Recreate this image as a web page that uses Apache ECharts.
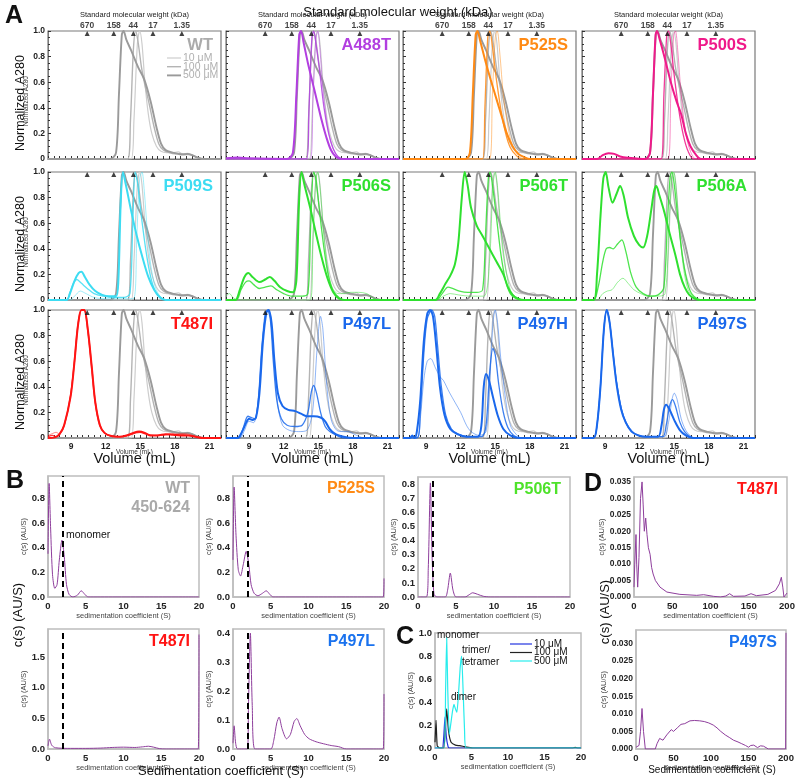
<!DOCTYPE html>
<html>
<head>
<meta charset="utf-8">
<script src="https://cdn.jsdelivr.net/npm/echarts@6/dist/echarts.min.js"></script>
<style>
  html, body { margin: 0; background: #fff; }
  #chart { width: 800px; height: 778px; }
</style>
</head>
<body>
<div id="chart"></div>
<script>
// ---------- panel A : SEC traces, [volume mL, normalized A280] ----------
const mwVolume = [10.4, 12.7, 14.4, 16.1, 18.6];
const mwLabels = ['670', '158', '44', '17', '1.35'];
const concLabels = ['10 μM', '100 μM', '500 μM'];

const wt10 = [[7,0],[14.2,0],[14.45,0.3],[14.75,0.9],[14.95,1.0],[15.15,0.9],[15.4,0.6],[15.7,0.35],[16.0,0.2],[16.4,0.1],[16.8,0.06],[17.3,0.05],[17.8,0.05],[18.3,0.055],[18.7,0.04],[19.1,0.045],[19.5,0.03],[20,0.01],[20.5,0],[22,0]];
const wt100 = [[7,0],[13.9,0],[14.15,0.3],[14.4,0.85],[14.6,1.0],[14.8,0.92],[15.1,0.72],[15.4,0.58],[15.8,0.42],[16.2,0.25],[16.6,0.12],[17.0,0.07],[17.5,0.05],[18.0,0.04],[18.5,0.04],[19.0,0.035],[19.5,0.03],[20.0,0.01],[20.5,0],[22,0]];
const wt500 = [[7,0],[12.4,0],[12.9,0.05],[13.15,0.5],[13.4,0.97],[13.55,1.0],[13.8,0.93],[14.2,0.85],[14.8,0.72],[15.35,0.62],[15.9,0.45],[16.4,0.25],[16.8,0.12],[17.2,0.07],[17.8,0.05],[18.3,0.04],[18.7,0.035],[19.1,0.04],[19.5,0.03],[20.0,0.01],[20.5,0],[22,0]];

const a488t10 = [[7,0],[14.3,0],[14.55,0.5],[14.8,0.95],[14.95,1.0],[15.15,0.85],[15.4,0.55],[15.8,0.25],[16.2,0.1],[16.6,0.03],[17.1,0],[22,0]];
const a488t100 = [[7,0],[14.0,0],[14.2,0.4],[14.45,0.95],[14.6,1.0],[14.8,0.9],[15.1,0.7],[15.5,0.4],[15.9,0.2],[16.3,0.08],[16.7,0.02],[17.2,0],[22,0]];
const a488t500 = [[7,0.005],[8,0.012],[9,0.005],[12.3,0],[12.8,0.05],[13.1,0.5],[13.35,0.97],[13.5,1.0],[13.75,0.9],[14.1,0.75],[14.5,0.6],[14.9,0.45],[15.3,0.3],[15.7,0.17],[16.1,0.07],[16.5,0.02],[17,0],[22,0]];

const p525s10 = [[7,0],[14.5,0],[14.75,0.5],[15.0,0.95],[15.17,1.0],[15.4,0.82],[15.7,0.5],[16.1,0.25],[16.5,0.1],[17,0.03],[17.5,0],[22,0]];
const p525s100 = [[7,0],[13.9,0],[14.1,0.4],[14.35,0.95],[14.53,1.0],[14.75,0.88],[15.1,0.62],[15.5,0.38],[15.9,0.2],[16.3,0.09],[16.8,0.03],[17.3,0],[22,0]];
const p525s500 = [[7,0],[12.4,0],[12.8,0.05],[13.05,0.5],[13.3,0.97],[13.45,1.0],[13.7,0.92],[14.1,0.78],[14.6,0.62],[15.1,0.47],[15.6,0.32],[16.0,0.2],[16.5,0.1],[17.0,0.04],[17.5,0.015],[18,0],[22,0]];

const p500s10 = [[7,0],[14.45,0],[14.7,0.5],[14.95,0.97],[15.1,1.0],[15.3,0.85],[15.6,0.5],[16.0,0.2],[16.4,0.06],[16.9,0],[22,0]];
const p500s100 = [[7,0],[13.85,0],[14.1,0.5],[14.35,0.97],[14.5,1.0],[14.7,0.9],[15.0,0.65],[15.4,0.38],[15.8,0.18],[16.2,0.06],[16.7,0],[22,0]];
const p500s500 = [[7,0],[8.3,0],[8.8,0.03],[9.3,0.045],[9.8,0.04],[10.3,0.02],[11,0.01],[12.5,0],[12.9,0.05],[13.15,0.5],[13.38,0.97],[13.5,1.0],[13.75,0.93],[14.2,0.78],[14.7,0.6],[15.2,0.45],[15.6,0.35],[16.0,0.2],[16.4,0.1],[16.9,0.03],[17.3,0],[22,0]];

const p509s10 = [[7,0],[8.9,0],[9.3,0.03],[9.8,0.07],[10.3,0.05],[11,0.02],[12,0.01],[14.4,0.01],[14.7,0.5],[14.95,0.95],[15.15,1.0],[15.35,0.85],[15.6,0.55],[15.9,0.28],[16.3,0.1],[16.8,0.02],[17.3,0],[22,0]];
const p509s100 = [[7,0],[8.6,0],[8.9,0.06],[9.2,0.13],[9.5,0.16],[9.9,0.13],[10.4,0.09],[11,0.05],[11.8,0.03],[12.6,0.02],[13.6,0.02],[14.1,0.05],[14.35,0.6],[14.55,1.0],[14.75,0.92],[15.1,0.65],[15.5,0.38],[15.9,0.18],[16.3,0.07],[16.8,0.02],[17.3,0],[22,0]];
const p509s500 = [[7,0],[8.6,0],[8.9,0.05],[9.3,0.15],[9.65,0.21],[9.9,0.22],[10.2,0.18],[10.6,0.12],[11.1,0.07],[11.7,0.04],[12.3,0.03],[12.9,0.03],[13.1,0.15],[13.3,0.75],[13.5,1.0],[13.75,0.9],[14.2,0.7],[14.7,0.5],[15.2,0.33],[15.7,0.18],[16.2,0.08],[16.7,0.02],[17.2,0],[22,0]];

const p506s10 = [[7,0.03],[7.3,0.05],[7.6,0.02],[8,0],[14.3,0],[14.55,0.5],[14.8,0.95],[14.95,1.0],[15.15,0.88],[15.45,0.55],[15.8,0.25],[16.2,0.1],[16.7,0.05],[17.2,0.05],[17.8,0.06],[18.5,0.06],[19.2,0.05],[19.7,0.02],[20.2,0],[22,0]];
const p506s100 = [[7,0],[7.9,0],[8.3,0.08],[8.7,0.14],[9.0,0.15],[9.4,0.12],[9.9,0.09],[10.4,0.1],[10.9,0.11],[11.4,0.08],[12,0.05],[12.7,0.03],[13.6,0.03],[14.1,0.05],[14.35,0.6],[14.6,1.0],[14.8,0.95],[15.1,0.7],[15.5,0.4],[15.9,0.18],[16.3,0.07],[16.8,0.02],[17.3,0],[22,0]];
const p506s500 = [[7,0],[7.8,0],[8.2,0.08],[8.6,0.18],[8.95,0.21],[9.3,0.18],[9.9,0.14],[10.4,0.16],[10.8,0.18],[11.2,0.15],[11.7,0.1],[12.3,0.07],[12.8,0.06],[13.1,0.15],[13.35,0.8],[13.55,1.0],[13.8,0.9],[14.3,0.72],[14.8,0.52],[15.3,0.33],[15.8,0.17],[16.3,0.06],[16.8,0.01],[17.3,0],[22,0]];

const p506t10 = [[7,0],[10,0],[10.5,0.03],[11.1,0.05],[11.8,0.04],[12.8,0.03],[14.0,0.03],[14.5,0.3],[14.8,0.9],[15.0,1.0],[15.2,0.88],[15.5,0.55],[15.9,0.25],[16.3,0.08],[16.8,0.02],[17.3,0],[22,0]];
const p506t100 = [[7,0],[9.9,0],[10.4,0.05],[10.9,0.1],[11.3,0.09],[11.9,0.07],[12.6,0.06],[13.4,0.06],[13.9,0.08],[14.15,0.5],[14.4,0.95],[14.55,1.0],[14.75,0.9],[15.1,0.65],[15.5,0.35],[15.9,0.15],[16.3,0.05],[16.8,0.01],[17.3,0],[22,0]];
const p506t500 = [[7,0],[9.8,0],[10.2,0.05],[10.7,0.13],[11.1,0.19],[11.5,0.28],[11.8,0.45],[12.1,0.8],[12.35,1.0],[12.6,0.9],[12.9,0.72],[13.4,0.58],[13.9,0.5],[14.5,0.4],[15.1,0.3],[15.7,0.2],[16.1,0.1],[16.5,0.04],[17,0.01],[17.5,0],[22,0]];

const p506a10 = [[7,0],[8.3,0],[8.8,0.05],[9.2,0.07],[9.6,0.08],[10.1,0.14],[10.55,0.17],[11,0.13],[11.5,0.08],[12.1,0.05],[12.7,0.03],[13.5,0.03],[14.2,0.05],[14.55,0.6],[14.8,0.97],[14.95,1.0],[15.15,0.88],[15.45,0.55],[15.8,0.25],[16.2,0.08],[16.7,0.02],[17.2,0],[22,0]];
const p506a100 = [[7,0],[8.0,0],[8.4,0.1],[8.8,0.3],[9.1,0.4],[9.4,0.41],[9.7,0.4],[10.1,0.44],[10.45,0.47],[10.8,0.38],[11.2,0.22],[11.7,0.1],[12.3,0.05],[12.9,0.03],[13.6,0.04],[14.1,0.1],[14.4,0.6],[14.65,0.97],[14.8,1.0],[15.0,0.9],[15.3,0.65],[15.7,0.35],[16.1,0.15],[16.5,0.05],[17,0.01],[17.5,0],[22,0]];
const p506a500 = [[7,0],[8.0,0],[8.3,0.2],[8.6,0.65],[8.85,0.95],[9.05,1.0],[9.3,0.88],[9.65,0.76],[10.0,0.83],[10.3,0.89],[10.6,0.82],[11.0,0.64],[11.5,0.5],[11.95,0.43],[12.3,0.41],[12.65,0.5],[13.0,0.7],[13.25,0.85],[13.45,0.89],[13.7,0.82],[14.1,0.7],[14.6,0.52],[15.1,0.35],[15.5,0.2],[15.9,0.1],[16.3,0.04],[16.8,0.01],[17.3,0],[22,0]];

const t487i10 = [[7,0.02],[7.4,0.035],[7.7,0.045],[8.0,0.03],[8.4,0.09],[8.9,0.3],[9.25,0.58],[9.55,0.87],[9.85,1.0],[10.1,1.0],[10.4,0.86],[10.75,0.56],[11.05,0.29],[11.45,0.1],[11.9,0.04],[12.6,0.01],[13.5,0.01],[14.2,0.03],[14.8,0.05],[15.3,0.04],[15.9,0.02],[16.6,0.02],[17.4,0.03],[18.0,0.03],[18.6,0.035],[19.2,0.03],[19.7,0.015],[20.3,0],[22,0]];
const t487i100 = [[7,0.01],[7.4,0.02],[7.7,0.01],[8.0,0.03],[8.4,0.1],[8.95,0.33],[9.3,0.6],[9.6,0.88],[9.9,1.0],[10.15,1.0],[10.45,0.85],[10.8,0.55],[11.1,0.28],[11.5,0.1],[11.9,0.04],[12.5,0.015],[13.3,0.01],[14,0.02],[14.6,0.04],[15.0,0.045],[15.5,0.03],[16.2,0.02],[17.0,0.025],[17.8,0.03],[18.5,0.025],[19.2,0.02],[20,0.005],[20.5,0],[22,0]];
const t487i500 = [[7,0],[7.6,0.005],[8.0,0.03],[8.4,0.1],[8.97,0.33],[9.3,0.6],[9.6,0.88],[9.9,1.0],[10.15,1.0],[10.45,0.85],[10.8,0.55],[11.1,0.28],[11.5,0.1],[11.9,0.04],[12.5,0.015],[13.2,0.01],[13.8,0.02],[14.4,0.04],[14.9,0.05],[15.4,0.04],[15.9,0.02],[16.5,0.02],[17.2,0.03],[17.8,0.025],[18.5,0.02],[19.2,0.02],[19.8,0.01],[20.5,0],[22,0]];

const p497l10 = [[7,0],[8.2,0],[8.6,0.06],[9.0,0.13],[9.4,0.12],[9.8,0.3],[10.1,0.7],[10.45,0.98],[10.65,1.0],[10.9,0.9],[11.2,0.55],[11.5,0.25],[11.9,0.1],[12.5,0.06],[13.3,0.05],[14.0,0.06],[14.5,0.2],[14.9,0.7],[15.2,0.95],[15.4,0.85],[15.7,0.45],[16.1,0.15],[16.6,0.06],[17.2,0.05],[17.6,0.05],[18.1,0.03],[18.6,0.01],[19,0],[22,0]];
const p497l100 = [[7,0],[8.1,0],[8.5,0.08],[8.9,0.17],[9.2,0.16],[9.5,0.15],[9.8,0.3],[10.1,0.7],[10.4,0.97],[10.6,1.0],[10.85,0.92],[11.1,0.6],[11.4,0.3],[11.8,0.15],[12.3,0.1],[13.0,0.09],[13.6,0.1],[14.1,0.2],[14.4,0.36],[14.6,0.41],[14.85,0.35],[15.2,0.2],[15.6,0.09],[16.0,0.05],[16.6,0.02],[17.2,0],[22,0]];
const p497l500 = [[7,0],[8.0,0],[8.4,0.05],[8.75,0.12],[9.0,0.15],[9.3,0.14],[9.6,0.16],[9.9,0.35],[10.2,0.75],[10.5,0.98],[10.7,1.0],[10.95,0.9],[11.2,0.6],[11.5,0.35],[11.9,0.25],[12.4,0.22],[13.0,0.21],[13.5,0.19],[14.0,0.17],[14.6,0.17],[15.2,0.16],[15.6,0.13],[16.0,0.07],[16.5,0.03],[17.2,0.01],[18,0],[22,0]];

const p497h10 = [[7,0],[8.2,0],[8.5,0.15],[8.8,0.45],[9.1,0.6],[9.4,0.62],[9.8,0.55],[10.2,0.48],[10.5,0.45],[11.0,0.36],[11.5,0.28],[12.0,0.2],[12.5,0.1],[12.9,0.05],[13.6,0.02],[14.2,0.05],[14.5,0.4],[14.8,0.9],[15.0,1.0],[15.2,0.9],[15.5,0.6],[15.9,0.3],[16.3,0.1],[16.8,0.03],[17.3,0],[22,0]];
const p497h100 = [[7,0],[8.2,0],[8.5,0.2],[8.8,0.65],[9.1,0.93],[9.5,1.0],[9.75,0.95],[10.0,0.72],[10.3,0.42],[10.7,0.18],[11.2,0.07],[11.8,0.03],[12.6,0.01],[13.8,0.01],[14.2,0.1],[14.5,0.5],[14.8,0.7],[15.0,0.65],[15.3,0.42],[15.7,0.2],[16.1,0.08],[16.6,0.02],[17.2,0],[22,0]];
const p497h500 = [[7,0],[7.6,0],[7.8,0.02],[8.0,0],[8.2,0.05],[8.5,0.3],[8.8,0.75],[9.1,0.97],[9.35,1.0],[9.6,0.95],[9.9,0.7],[10.2,0.4],[10.6,0.18],[11.1,0.07],[11.7,0.03],[12.5,0.01],[13.5,0.01],[13.8,0.1],[14.0,0.4],[14.2,0.5],[14.45,0.45],[14.8,0.32],[15.2,0.18],[15.7,0.07],[16.3,0.02],[17,0],[22,0]];

const p497s10 = [[7,0],[8.0,0],[8.3,0.1],[8.6,0.4],[8.9,0.85],[9.15,1.0],[9.4,0.9],[9.7,0.66],[10.0,0.44],[10.4,0.24],[10.8,0.13],[11.3,0.06],[11.9,0.02],[12.6,0.01],[14.1,0.01],[14.5,0.12],[14.8,0.3],[15.0,0.35],[15.25,0.3],[15.6,0.15],[16.0,0.06],[16.5,0.01],[17,0],[22,0]];
const p497s100 = [[7,0],[8.0,0],[8.3,0.1],[8.6,0.4],[8.9,0.85],[9.15,1.0],[9.4,0.9],[9.7,0.66],[10.0,0.43],[10.4,0.23],[10.8,0.12],[11.3,0.05],[11.9,0.02],[12.6,0.01],[14.0,0.01],[14.3,0.1],[14.6,0.25],[14.85,0.3],[15.1,0.25],[15.5,0.12],[15.9,0.05],[16.4,0.01],[17,0],[22,0]];
const p497s500 = [[7,0],[8.0,0],[8.3,0.1],[8.6,0.4],[8.9,0.85],[9.15,1.0],[9.4,0.9],[9.7,0.65],[10.0,0.42],[10.4,0.22],[10.8,0.12],[11.3,0.05],[11.9,0.02],[12.6,0.01],[13.6,0.01],[13.9,0.1],[14.1,0.22],[14.3,0.26],[14.6,0.22],[15.0,0.14],[15.5,0.06],[16.0,0.02],[16.6,0],[22,0]];

// ---------- panels B, C, D : c(s) distributions, [S, c(s)] ----------
const wtSed = [[0,0.35],[0.15,0.92],[0.35,0.55],[0.6,0.18],[0.9,0.07],[1.2,0.1],[1.5,0.3],[1.85,0.46],[2.15,0.33],[2.45,0.1],[2.8,0.02],[3.3,0],[3.9,0.015],[4.4,0.05],[4.9,0.02],[5.3,0],[20,0]];
const p525sSed = [[0,0.3],[0.15,0.89],[0.4,0.5],[0.7,0.22],[1.0,0.17],[1.35,0.26],[1.75,0.37],[2.1,0.26],[2.4,0.1],[2.8,0.03],[3.3,0.01],[3.9,0.03],[4.4,0.05],[4.9,0.02],[5.3,0],[19.9,0],[20,0.15]];
const p506tSed = [[0,0],[1.1,0],[1.35,0.2],[1.63,0.81],[1.85,0.3],[2.1,0.02],[2.5,0],[3.6,0],[3.9,0.05],[4.25,0.17],[4.6,0.05],[5.0,0],[6.2,0],[6.7,0.015],[7.2,0.03],[7.8,0.02],[8.6,0.005],[9.5,0],[20,0]];
const t487iSed = [[0,0.05],[0.2,0.16],[0.5,0.06],[1,0.02],[3,0.01],[5,0.01],[7,0.015],[8.5,0.025],[10,0.03],[11.5,0.025],[12.5,0.035],[13.3,0.045],[14.0,0.03],[14.8,0.005],[15.5,0],[19.9,0],[20,1.87]];
const p497lSed = [[0,0.02],[0.15,0.08],[0.35,0.02],[0.6,0],[1.9,0],[2.05,0.15],[2.3,0.4],[2.55,0.15],[2.9,0],[5.0,0],[5.4,0.03],[5.8,0.09],[6.1,0.11],[6.5,0.07],[7.1,0.035],[7.6,0.05],[8.1,0.095],[8.45,0.105],[8.9,0.08],[9.5,0.05],[10.1,0.035],[11,0.025],[12,0.018],[13,0.012],[14,0.008],[15,0],[19.9,0],[20,0.19]];
const t487iWide = [[0,0.003],[1,0.01],[2.6,0.019],[3.5,0.01],[4.8,0.003],[6.5,0.012],[8.5,0.03],[10.5,0.035],[12,0.028],[13.5,0.02],[15.3,0.024],[17,0.019],[18.8,0.015],[21,0.013],[23,0.009],[25,0.007],[28,0.005],[34,0.003],[43,0.0015],[60,0.0008],[82,0.0005],[91,0.0007],[104,0.0002],[113,0],[120,0.0003],[125,0.001],[130,0.0002],[145,0.0003],[153,0.001],[160,0.0004],[175,0.0008],[185,0.002],[190,0.004],[192.6,0.006],[194.5,0.003],[196,0],[198,0],[200,0.0012]];
const p497sWide = [[0,0.0005],[4,0.001],[6,0.005],[8,0.0115],[10,0.005],[12.4,0],[25.7,0],[28,0.0015],[31.5,0.003],[36,0.0025],[41,0.004],[47,0.0055],[50,0.005],[55,0.006],[60,0.007],[65,0.0072],[72,0.008],[78,0.0081],[85,0.008],[91,0.0078],[97,0.0074],[103,0.0068],[108,0.006],[113,0.005],[119,0.004],[125,0.0032],[130,0.0025],[136,0.002],[141,0.0015],[146,0.001],[150,0.0005],[153,0.001],[157,0.0011],[162,0.0004],[166,0.0009],[170,0.0008],[176.5,0],[199.5,0],[200,0.033]];
const wtConc10 = [[0,0],[1.0,0],[1.2,0.1],[1.37,0.27],[1.55,0.1],[1.8,0.01],[2,0],[20,0]];
const wtConc100 = [[0,0.05],[0.14,0.24],[0.3,0.02],[0.6,0],[1.2,0],[1.4,0.15],[1.6,0.34],[1.85,0.15],[2.2,0.05],[2.8,0.025],[3.4,0.02],[4.0,0.012],[4.6,0.005],[5.2,0],[18.8,0],[19.2,0.005],[19.6,0],[20,0]];
const wtConc500 = [[0,0],[1.25,0],[1.45,0.5],[1.6,0.96],[1.75,0.5],[1.95,0.12],[2.1,0.18],[2.4,0.32],[2.6,0.38],[2.8,0.34],[3.0,0.31],[3.2,0.45],[3.45,0.7],[3.65,0.8],[3.85,0.5],[4.05,0.15],[4.25,0],[20,0]];

// ---------- layout ----------
const FONT = '"Liberation Sans", Arial, sans-serif';
const colLeft = [48, 226, 403, 582];
const rowTop = [31, 172, 310];
const PW = 173, PH = 128;

const secPanels = [
  { name: 'WT', color: '#ababab', lines: null },
  { name: 'A488T', color: '#b23fe0', lines: [a488t10, a488t100, a488t500] },
  { name: 'P525S', color: '#ff8a14', lines: [p525s10, p525s100, p525s500] },
  { name: 'P500S', color: '#ef1a8a', lines: [p500s10, p500s100, p500s500] },
  { name: 'P509S', color: '#3ddcf2', lines: [p509s10, p509s100, p509s500] },
  { name: 'P506S', color: '#2fe02f', lines: [p506s10, p506s100, p506s500] },
  { name: 'P506T', color: '#2fe02f', lines: [p506t10, p506t100, p506t500] },
  { name: 'P506A', color: '#2fe02f', lines: [p506a10, p506a100, p506a500] },
  { name: 'T487I', color: '#ff1414', lines: [t487i10, t487i100, t487i500] },
  { name: 'P497L', color: '#1a68ec', lines: [p497l10, p497l100, p497l500] },
  { name: 'P497H', color: '#1a68ec', lines: [p497h10, p497h100, p497h500] },
  { name: 'P497S', color: '#1a68ec', lines: [p497s10, p497s100, p497s500] }
];
const greyStyle = [
  { color: '#cdcdcd', width: 1.2, opacity: 1 },
  { color: '#b4b4b4', width: 1.4, opacity: 1 },
  { color: '#9a9a9a', width: 1.9, opacity: 1 }
];
const mutWidth = [0.9, 1.3, 2];
const mutOpacity = [0.55, 0.85, 1];

const grids = [], xAxes = [], yAxes = [], series = [], graphics = [];

function text(x, y, str, size, opts) {
  opts = opts || {};
  graphics.push({
    type: 'text', x: x, y: y, rotation: opts.rot || 0, silent: true, z: 50,
    style: {
      text: str, fontSize: size, fontWeight: opts.bold ? 'bold' : 'normal', fontFamily: FONT,
      fill: opts.color || '#111', align: opts.align || 'center', verticalAlign: 'middle'
    }
  });
}
function seg(x1, y1, x2, y2, color, w) {
  graphics.push({ type: 'line', silent: true, z: 50, shape: { x1, y1, x2, y2 }, style: { stroke: color, lineWidth: w } });
}
function line(gi, data, st, smooth) {
  return {
    type: 'line', xAxisIndex: gi, yAxisIndex: gi, data: data, smooth: smooth, showSymbol: false, silent: true,
    lineStyle: { color: st.color, width: st.width, opacity: st.opacity }
  };
}

// ---- A ----
secPanels.forEach((p, i) => {
  const row = Math.floor(i / 4), col = i % 4;
  const gi = grids.length;
  grids.push({ left: colLeft[col], top: rowTop[row], width: PW, height: PH, show: true,
    borderColor: '#7a7a7a', borderWidth: 1.2, outerBoundsMode: 'none' });
  xAxes.push({
    gridIndex: gi, type: 'value', min: 7, max: 22, interval: 0.5,
    axisLine: { lineStyle: { color: '#7a7a7a' } },
    axisTick: { inside: true, length: 3, lineStyle: { color: '#333' } },
    axisLabel: { show: row === 2, formatter: v => (v % 3 === 0 ? String(v) : ''), fontSize: 8.5,
      fontWeight: 'bold', color: '#222', margin: 4, fontFamily: FONT },
    splitLine: { show: false }
  });
  yAxes.push({
    gridIndex: gi, type: 'value', min: 0, max: 1, interval: 0.2,
    axisLine: { show: true, lineStyle: { color: '#7a7a7a' } },
    axisTick: { inside: true, length: 3, lineStyle: { color: '#333' } },
    minorTick: { show: true, splitNumber: 4, length: 2, lineStyle: { color: '#333' } },
    axisLabel: { show: col === 0, formatter: v => (v === 0 ? '0' : v.toFixed(1)), fontSize: 8.5,
      fontWeight: 'bold', color: '#222', margin: 3, fontFamily: FONT },
    splitLine: { show: false }
  });
  [wt10, wt100, wt500].forEach((d, k) => series.push(line(gi, d, greyStyle[k], 0.3)));
  if (p.lines) {
    p.lines.forEach((d, k) => series.push(line(gi, d, { color: p.color, width: mutWidth[k], opacity: mutOpacity[k] }, 0.3)));
  }
  // calibration standards along the top edge
  series.push({
    type: 'scatter', xAxisIndex: gi, yAxisIndex: gi, data: mwVolume.map(v => [v, 1]),
    symbol: 'triangle', symbolSize: [5, 5], symbolOffset: [0, 2.5], clip: false, silent: true, z: 5,
    itemStyle: { color: '#111' },
    label: { show: row === 0, position: 'top', distance: 1, formatter: q => mwLabels[q.dataIndex],
      fontSize: 8.5, fontWeight: 'bold', color: '#111', fontFamily: FONT }
  });
  text(colLeft[col] + PW - 8, rowTop[row] + 14, p.name, 16.5, { bold: true, color: p.color, align: 'right' });
});

// WT legend
concLabels.forEach((lab, k) => {
  const y = 58 + k * 8.7;
  seg(167, y, 181, y, greyStyle[k].color, greyStyle[k].width);
  text(183, y, lab, 10.5, { color: '#b0b0b0', align: 'left' });
});

text(14, 16, 'A', 25, { bold: true });
text(398, 12, 'Standard molecular weight (kDa)', 13);
colLeft.forEach(x => {
  text(x + PW / 2, 15, 'Standard molecular weight (kDa)', 7.5, { color: '#222' });
  text(x + PW / 2, 459, 'Volume (mL)', 14.5);
  text(x + PW / 2, 452, 'Volume (mL)', 6.5, { color: '#333' });
});
rowTop.forEach(y => {
  text(21, y + PH / 2 + 8, 'Normalized A280', 12.5, { rot: Math.PI / 2 });
  text(26, y + PH / 2 + 6, 'Normalized A280', 6.5, { rot: Math.PI / 2, color: '#333' });
});

// ---- B, C, D ----
const sedPanels = [
  { box: [48, 476, 151, 121], data: wtSed, xMax: 20, xStep: 5, yMax: 0.98, yStep: 0.2, digits: 1, dash: true, gap: 16, title: ['WT', '450-624'], color: '#a9a9a9' },
  { box: [233, 476, 151, 121], data: p525sSed, xMax: 20, xStep: 5, yMax: 0.98, yStep: 0.2, digits: 1, dash: true, gap: 15, title: ['P525S'], color: '#ff8a14' },
  { box: [418, 477, 152, 120], data: p506tSed, xMax: 20, xStep: 5, yMax: 0.852, yStep: 0.1, digits: 1, dash: true, gap: 19, title: ['P506T'], color: '#4ee22a' },
  { box: [634, 477, 153, 120], data: t487iWide, xMax: 200, xStep: 50, yMax: 0.0365, yStep: 0.005, digits: 3, dash: false, gap: 26, title: ['T487I'], color: '#ff1414' },
  { box: [48, 629, 151, 120], data: t487iSed, xMax: 20, xStep: 5, yMax: 1.96, yStep: 0.5, digits: 1, dash: true, gap: 16, title: ['T487I'], color: '#ff1414' },
  { box: [233, 629, 151, 120], data: p497lSed, xMax: 20, xStep: 5, yMax: 0.414, yStep: 0.1, digits: 1, dash: true, gap: 16, title: ['P497L'], color: '#1a72ee' },
  { box: [636, 630, 150, 119], data: p497sWide, xMax: 200, xStep: 50, yMax: 0.0338, yStep: 0.005, digits: 3, dash: false, gap: 28, title: ['P497S'], color: '#1a72ee' },
  { box: [435, 633, 146, 115], data: null, xMax: 20, xStep: 5, yMax: 1.0, yStep: 0.2, digits: 1, dash: false, gap: 12, title: [], color: '#000' }
];
const purple = '#8e3e9c';
const concColors = ['#2233e0', '#222222', '#27ecec'];

sedPanels.forEach(p => {
  const gi = grids.length;
  const [l, t, w, h] = p.box;
  const q = p.yMax / p.yStep;
  const maxOnTick = Math.abs(q - Math.round(q)) < 1e-6;
  grids.push({ left: l, top: t, width: w, height: h, show: true, borderColor: '#bdbdbd', borderWidth: 1.5, outerBoundsMode: 'none' });
  xAxes.push({
    gridIndex: gi, type: 'value', min: 0, max: p.xMax, interval: p.xStep,
    name: 'sedimentation coefficient (S)', nameLocation: 'middle', nameGap: 14,
    nameTextStyle: { fontSize: 7.5, color: '#444', fontFamily: FONT },
    axisLine: { lineStyle: { color: '#bdbdbd', width: 1.5 } }, axisTick: { show: false },
    axisLabel: { fontSize: 9.5, fontWeight: 'bold', color: '#222', margin: 4, fontFamily: FONT },
    splitLine: { show: false }
  });
  yAxes.push({
    gridIndex: gi, type: 'value', min: 0, max: p.yMax, interval: p.yStep,
    name: 'c(s) (AU/S)', nameLocation: 'middle', nameGap: p.gap,
    nameTextStyle: { fontSize: 7.5, color: '#444', fontFamily: FONT },
    axisLine: { show: true, lineStyle: { color: '#bdbdbd', width: 1.5 } }, axisTick: { show: false },
    axisLabel: { showMaxLabel: maxOnTick, formatter: v => v.toFixed(p.digits), fontSize: p.digits === 3 ? 8.5 : 9.5,
      fontWeight: 'bold', color: '#222', margin: 3, fontFamily: FONT },
    splitLine: { show: false }
  });
  if (p.data) {
    const s = line(gi, p.data, { color: purple, width: 1, opacity: 1 }, p.digits === 3 ? 0 : 0.25);
    if (p.dash) {
      s.markLine = { silent: true, symbol: 'none', label: { show: false },
        lineStyle: { color: '#000', type: [6, 4], width: 2 }, data: [{ xAxis: 2 }] };
    }
    series.push(s);
  } else {
    [wtConc10, wtConc100, wtConc500].forEach((d, k) =>
      series.push(line(gi, d, { color: concColors[k], width: 1.2, opacity: 1 }, 0.15)));
  }
  p.title.forEach((s, k) => text(l + w - 9, t + 13 + k * 19, s, 16, { bold: true, color: p.color, align: 'right' }));
});

text(66, 535, 'monomer', 10.5, { align: 'left' });
text(437, 635, 'monomer', 10, { align: 'left' });
text(462, 650, 'trimer/', 10, { align: 'left' });
text(462, 662, 'tetramer', 10, { align: 'left' });
text(451, 697, 'dimer', 10, { align: 'left' });
concLabels.forEach((lab, k) => {
  const y = 644 + k * 8.5;
  seg(510, y, 532, y, concColors[k], 1.2);
  text(534, y, lab, 10, { align: 'left' });
});

text(15, 481, 'B', 25, { bold: true });
text(405, 637, 'C', 25, { bold: true });
text(593, 484, 'D', 25, { bold: true });
text(18, 615, 'c(s) (AU/S)', 13, { rot: Math.PI / 2 });
text(605, 612, 'c(s) (AU/S)', 13, { rot: Math.PI / 2 });
text(221, 771, 'Sedimentation coefficient (S)', 13);
text(712, 770, 'Sedimentation coefficient (S)', 10);

const chart = echarts.init(document.getElementById('chart'));
chart.setOption({
  animation: false,
  textStyle: { fontFamily: FONT },
  grid: grids,
  xAxis: xAxes,
  yAxis: yAxes,
  series: series,
  graphic: graphics
});
</script>
</body>
</html>
